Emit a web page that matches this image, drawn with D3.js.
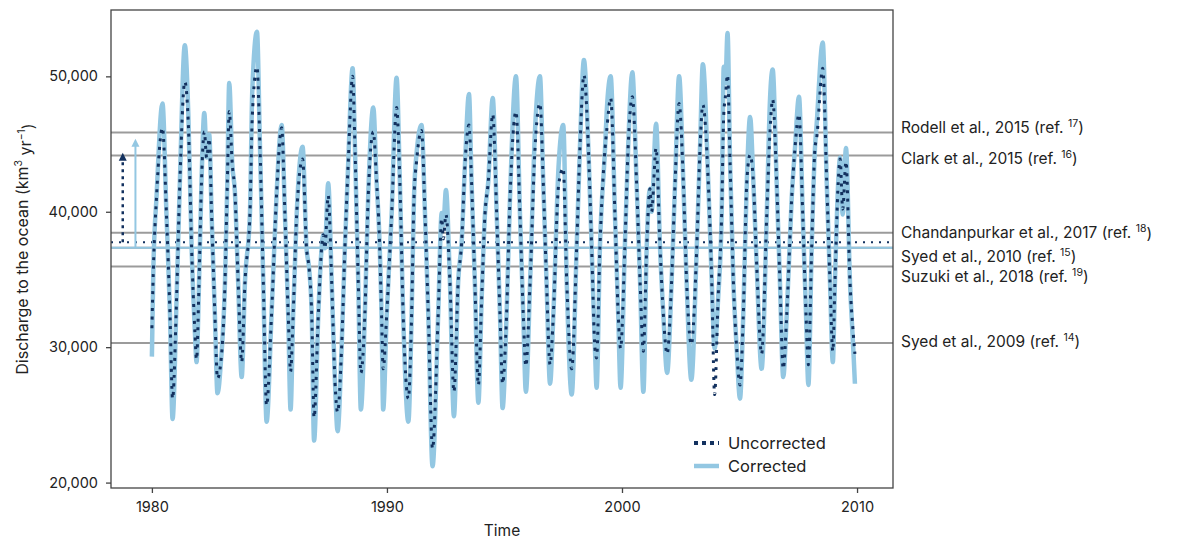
<!DOCTYPE html>
<html>
<head>
<meta charset="utf-8">
<script src="https://cdn.jsdelivr.net/npm/d3@7"></script>
<style>
  body { margin: 0; background: #fff; }
  text { font-family: Inter, "Noto Sans", sans-serif; fill: #222; }
</style>
</head>
<body>
<svg width="1183" height="540"></svg>
<script>
// decimal years of the points
var years = [
  1980.00, 1980.06, 1980.20, 1980.45, 1980.62, 1980.77, 1980.88,
  1981.05, 1981.19, 1981.40, 1981.55, 1981.69, 1981.83, 1981.90,
  1982.00, 1982.11, 1982.23, 1982.33, 1982.44, 1982.54, 1982.68, 1982.79,
  1982.94, 1983.11, 1983.21, 1983.29, 1983.42, 1983.53, 1983.67, 1983.82,
  1983.96, 1984.17, 1984.27, 1984.47, 1984.60, 1984.74, 1984.88,
  1985.09, 1985.31, 1985.52, 1985.66, 1985.80, 1985.90,
  1986.01, 1986.16, 1986.41, 1986.58, 1986.69, 1986.80, 1986.90,
  1987.08, 1987.22, 1987.29, 1987.36, 1987.50, 1987.65, 1987.79, 1987.90,
  1988.07, 1988.21, 1988.35, 1988.54, 1988.64, 1988.78, 1988.89,
  1989.06, 1989.20, 1989.42, 1989.56, 1989.67, 1989.77, 1989.84,
  1989.99, 1990.20, 1990.41, 1990.55, 1990.69, 1990.91,
  1991.05, 1991.15, 1991.27, 1991.47, 1991.62, 1991.76, 1991.94,
  1992.18, 1992.33, 1992.40, 1992.51, 1992.68, 1992.85,
  1993.03, 1993.18, 1993.32, 1993.49, 1993.60, 1993.74, 1993.89,
  1994.03, 1994.17, 1994.31, 1994.50, 1994.67, 1994.81, 1994.92,
  1995.09, 1995.23, 1995.49, 1995.66, 1995.80, 1995.91,
  1996.09, 1996.30, 1996.51, 1996.65, 1996.79, 1996.94,
  1997.08, 1997.30, 1997.50, 1997.65, 1997.86,
  1998.07, 1998.21, 1998.38, 1998.57, 1998.71, 1998.85, 1998.92,
  1999.06, 1999.28, 1999.35, 1999.52, 1999.70, 1999.84, 1999.94,
  2000.12, 2000.26, 2000.44, 2000.62, 2000.77, 2000.91,
  2001.05, 2001.19, 2001.26, 2001.45, 2001.62, 2001.76, 2001.92,
  2002.11, 2002.26, 2002.43, 2002.61, 2002.75, 2002.95,
  2003.18, 2003.32, 2003.44, 2003.67, 2003.82, 2003.94,
  2004.09, 2004.24, 2004.33, 2004.40, 2004.49, 2004.60, 2004.74, 2004.88, 2005.02,
  2005.16, 2005.31, 2005.45, 2005.59, 2005.73, 2005.94,
  2006.16, 2006.30, 2006.41, 2006.58, 2006.72, 2006.86,
  2007.01, 2007.22, 2007.36, 2007.53, 2007.69, 2007.83, 2007.93,
  2008.07, 2008.21, 2008.28, 2008.54, 2008.71, 2008.85, 2008.97,
  2009.06, 2009.20, 2009.28, 2009.39, 2009.53, 2009.70, 2009.84, 2009.91
];

var corrected = [
  29300, 35600, 41200, 48000, 39800, 32400, 24700,
  33600, 42200, 52300, 47200, 37300, 31100, 28900,
  34400, 42200, 47300, 44000, 45700, 39800, 32400, 26600,
  29000, 34800, 42200, 49500, 43500, 41500, 34800, 27800,
  34800, 39800, 48900, 53300, 44700, 34800, 24500,
  32400, 41500, 46400, 39800, 32400, 25400,
  32400, 39800, 44800, 37300, 35800, 32400, 23100,
  32400, 37300, 38300, 37300, 42100, 34800, 27400, 23800,
  29900, 37300, 43500, 50600, 44700, 34800, 25400,
  32400, 41000, 47700, 42200, 38500, 32400, 25400,
  32400, 39800, 49900, 42200, 32400, 24500,
  32400, 41000, 44500, 46400, 39800, 32400, 21200,
  32400, 39900, 39000, 41600, 34800, 24900,
  34800, 37800, 43500, 48700, 42200, 34800, 25900,
  33600, 39800, 42200, 48400, 39800, 32400, 25500,
  32400, 40700, 50000, 39800, 32400, 26700,
  34800, 46000, 50000, 42200, 34800, 27300,
  32400, 43300, 46400, 34800, 26500,
  37300, 44700, 51200, 44700, 37300, 29900, 27000,
  37300, 44700, 47400, 50000, 39800, 32400, 27000,
  37300, 44700, 50300, 42200, 34800, 26700,
  37300, 41700, 40000, 46500, 37300, 32400, 28100,
  34800, 42200, 50000, 42200, 34800, 27600,
  37300, 44700, 50900, 42200, 34800, 29900,
  33600, 39800, 50700, 49500, 53200, 43500, 34800, 29900, 26200,
  32400, 42200, 47000, 42200, 36100, 28400,
  39800, 48400, 50500, 42200, 34800, 27800,
  32400, 41000, 44700, 48500, 39800, 32400, 27200,
  37300, 44700, 46400, 52500, 42200, 34800, 28900,
  34800, 42200, 44000, 39800, 44700, 34800, 29900, 27300
];

var uncorrected = [
  31400, 35600, 41200, 46200, 39800, 32400, 26200,
  33600, 42200, 49600, 46500, 37300, 31100, 29100,
  34400, 42200, 45900, 44000, 45400, 39800, 32400, 27700,
  29000, 34800, 42200, 47400, 43500, 41500, 34800, 28900,
  34800, 39800, 47000, 50700, 44700, 34800, 25700,
  32400, 41500, 46200, 39800, 32400, 28200,
  32400, 39800, 43900, 37300, 35800, 32400, 24800,
  32400, 37300, 38300, 37300, 41200, 34800, 27400, 25200,
  29900, 37300, 43500, 50000, 44700, 34800, 28100,
  32400, 41000, 45900, 42200, 38500, 32400, 28400,
  32400, 39800, 47700, 42200, 32400, 26200,
  32400, 41000, 43900, 46000, 39800, 32400, 22500,
  32400, 39500, 38000, 39800, 34800, 26700,
  34800, 37800, 43500, 46400, 42200, 34800, 27200,
  33600, 39800, 42200, 47200, 39800, 32400, 27300,
  32400, 40700, 47400, 39800, 32400, 28600,
  34800, 44700, 48000, 42200, 34800, 28700,
  32400, 41900, 43200, 34800, 28400,
  37300, 44700, 50100, 44700, 37300, 29900, 29200,
  37300, 44700, 46000, 48400, 39800, 32400, 29900,
  37300, 44700, 48500, 42200, 34800, 29700,
  37300, 41700, 40000, 44700, 37300, 32400, 29500,
  34800, 42200, 48000, 42200, 34800, 30200,
  37300, 44700, 47900, 42200, 34800, 26500,
  33600, 39800, 47200, 48500, 50100, 43500, 34800, 29900, 27200,
  32400, 42200, 44200, 42200, 36100, 29500,
  39800, 46000, 48300, 42200, 34800, 28400,
  32400, 41000, 44700, 47200, 39800, 32400, 28700,
  37300, 44700, 45400, 50600, 42200, 34800, 29700,
  34800, 42200, 43900, 40200, 43700, 34800, 31000, 29500
];

// published estimates drawn as grey lines
var refNames = ["Rodell et al., 2015 (ref. ", "Clark et al., 2015 (ref. ", "Chandanpurkar et al., 2017 (ref. ",
  "Syed et al., 2010 (ref. ", "Suzuki et al., 2018 (ref. ", "Syed et al., 2009 (ref. "];
var refNums = ["17", "16", "18", "15", "19", "14"];
var refValues = [45850, 44150, 38450, 37350, 35950, 30300];

// period means and the arrows that rise from them
var meanUncorrected = 37750;
var meanCorrected = 37350;
var arrowYears = [1978.76, 1979.30];
var arrowTops = [44350, 45400];

var xTicks = [1980, 1990, 2000, 2010];
var yTicks = [20000, 30000, 40000, 50000];

var darkBlue = "#13315f",
	lightBlue = "#93c7e2",
	grey = "#9b9b9b";

var svg = d3.select("svg"),
	margin = { top: 10, right: 290, bottom: 52, left: 111 },
	width = +svg.attr("width") - margin.left - margin.right,
	height = +svg.attr("height") - margin.top - margin.bottom;

var g = svg.append("g")
	.attr("transform", "translate(" + margin.left + "," + margin.top + ")");

var x = d3.scaleLinear().domain([1978.26, 2011.53]).range([0, width]);
var y = d3.scaleLinear().domain([19600, 54900]).range([height, 0]);

// reference lines
g.selectAll(".ref")
	.data(refValues)
	.enter().append("line")
	.attr("class", "ref")
	.attr("x1", 0)
	.attr("x2", width)
	.attr("y1", function(d) { return y(d); })
	.attr("y2", function(d) { return y(d); })
	.attr("stroke", grey)
	.attr("stroke-width", 2);

// mean lines
g.append("line")
	.attr("x1", 0).attr("x2", width)
	.attr("y1", y(meanCorrected)).attr("y2", y(meanCorrected))
	.attr("stroke", lightBlue)
	.attr("stroke-width", 2);

g.append("line")
	.attr("x1", 0).attr("x2", width)
	.attr("y1", y(meanUncorrected)).attr("y2", y(meanUncorrected))
	.attr("stroke", darkBlue)
	.attr("stroke-width", 2)
	.attr("stroke-dasharray", "2,6");

// arrows
function arrow(xv, from, to, color, dashed) {
	var ax = x(xv);
	g.append("line")
		.attr("x1", ax).attr("x2", ax)
		.attr("y1", y(from)).attr("y2", y(to) + 6)
		.attr("stroke", color)
		.attr("stroke-width", dashed ? 2.5 : 2)
		.attr("stroke-dasharray", dashed ? "3,4" : null);
	g.append("path")
		.attr("d", "M" + (ax - 4) + "," + (y(to) + 8) + "L" + ax + "," + y(to) + "L" + (ax + 4) + "," + (y(to) + 8) + "Z")
		.attr("fill", color);
}
arrow(arrowYears[0], meanUncorrected, arrowTops[0], darkBlue, true);
arrow(arrowYears[1], meanCorrected, arrowTops[1], lightBlue, false);

// series
var line = d3.line()
	.x(function(d) { return x(d[0]); })
	.y(function(d) { return y(d[1]); })
	.curve(d3.curveMonotoneX);

g.append("path")
	.datum(d3.zip(years, corrected))
	.attr("fill", "none")
	.attr("stroke", lightBlue)
	.attr("stroke-width", 4.5)
	.attr("stroke-linejoin", "round")
	.attr("d", line);

g.append("path")
	.datum(d3.zip(years, uncorrected))
	.attr("fill", "none")
	.attr("stroke", darkBlue)
	.attr("stroke-width", 3)
	.attr("stroke-dasharray", "3,5.5")
	.attr("d", line);

// frame
g.append("rect")
	.attr("width", width)
	.attr("height", height)
	.attr("fill", "none")
	.attr("stroke", "#444")
	.attr("stroke-width", 1.3);

// axes
var xAxis = g.append("g")
	.attr("transform", "translate(0," + height + ")")
	.call(d3.axisBottom(x).tickValues(xTicks).tickFormat(d3.format("d")).tickSize(5).tickPadding(9));
var yAxis = g.append("g")
	.call(d3.axisLeft(y).tickValues(yTicks).tickFormat(d3.format(",")).tickSize(5).tickPadding(8));

[xAxis, yAxis].forEach(function(a) {
	a.select(".domain").remove();
	a.selectAll("line").attr("stroke", "#444").attr("stroke-width", 1.3);
	a.selectAll("text")
		.attr("font-size", 14.5)
		.attr("font-family", "Inter, 'Noto Sans', sans-serif")
		.attr("fill", "#333");
});

// reference labels, nudged apart like the original
var labelNudge = [-5, 3, 0, 9, 10, -2];
var labels = g.selectAll(".reflabel")
	.data(refValues)
	.enter().append("text")
	.attr("class", "reflabel")
	.attr("x", width + 8)
	.attr("y", function(d, i) { return y(d) + labelNudge[i]; })
	.attr("dy", "0.35em")
	.attr("font-size", 15.5);
labels.append("tspan").text(function(d, i) { return refNames[i]; });
labels.append("tspan")
	.attr("font-size", 10.5)
	.attr("dy", "-0.55em")
	.text(function(d, i) { return refNums[i]; });
labels.append("tspan")
	.attr("dy", "0.4em")
	.text(")");

// legend
var legend = g.append("g").attr("transform", "translate(" + (width - 199) + "," + (height - 45) + ")");
legend.append("line")
	.attr("x1", 0).attr("x2", 25).attr("y1", 0).attr("y2", 0)
	.attr("stroke", darkBlue).attr("stroke-width", 4).attr("stroke-dasharray", "4,4");
legend.append("line")
	.attr("x1", 0).attr("x2", 25).attr("y1", 23).attr("y2", 23)
	.attr("stroke", lightBlue).attr("stroke-width", 4.5);
legend.append("text").attr("x", 34).attr("y", 0).attr("dy", "0.35em").attr("font-size", 16.5).text("Uncorrected");
legend.append("text").attr("x", 34).attr("y", 23).attr("dy", "0.35em").attr("font-size", 16.5).text("Corrected");

// axis titles
g.append("text")
	.attr("x", width / 2)
	.attr("y", height + 43)
	.attr("dy", "0.35em")
	.attr("text-anchor", "middle")
	.attr("font-size", 15.5)
	.text("Time");

var yl = g.append("text")
	.attr("transform", "translate(" + (-89) + "," + (height / 2) + ") rotate(-90)")
	.attr("dy", "0.35em")
	.attr("text-anchor", "middle")
	.attr("font-size", 16);
yl.append("tspan").text("Discharge to the ocean (km");
yl.append("tspan").attr("font-size", 10.5).attr("dy", "-0.55em").text("3");
yl.append("tspan").attr("dy", "0.55em").text(" yr");
yl.append("tspan").attr("font-size", 10.5).attr("dy", "-0.55em").text("\u22121");
yl.append("tspan").attr("dy", "0.55em").text(")");
</script>
</body>
</html>
